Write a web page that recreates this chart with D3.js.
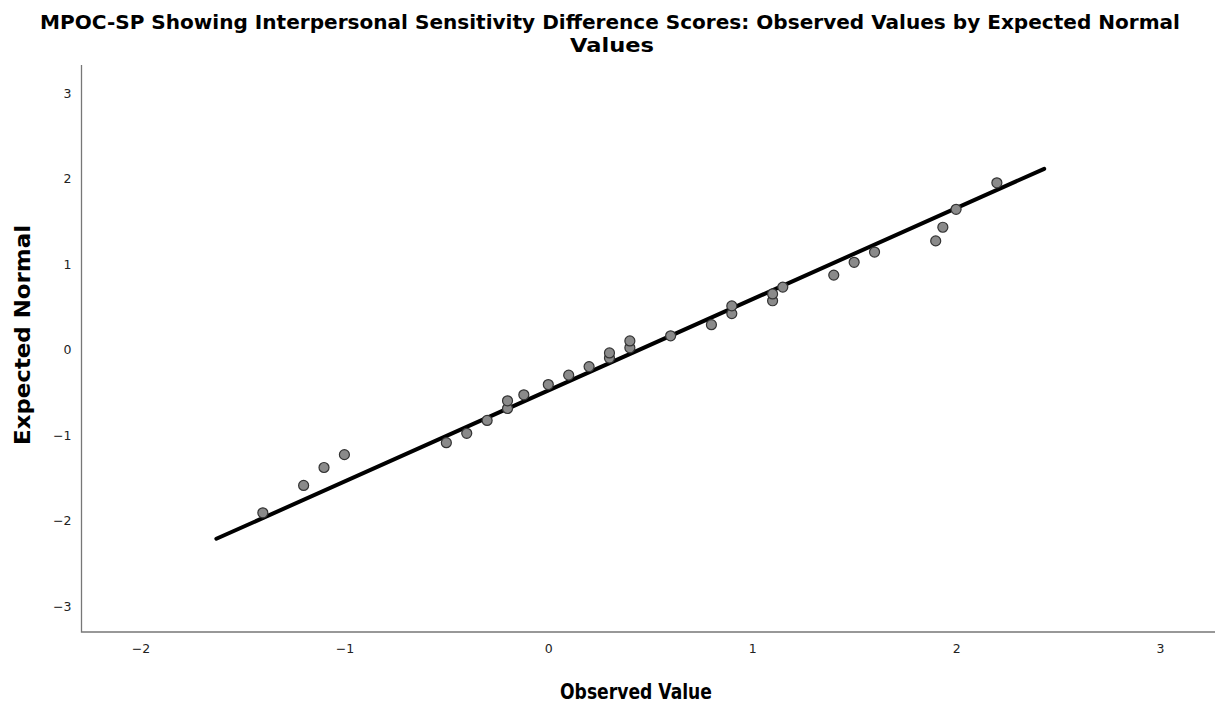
<!DOCTYPE html>
<html><head><meta charset="utf-8">
<script src="https://cdn.jsdelivr.net/npm/d3@7"></script>
<style>body{margin:0;background:#fff;} svg{display:block;}</style>
</head><body>
<svg id="c" width="1225" height="704"></svg>
<script>
const observed = [-1.40,-1.20,-1.10,-1.00,-0.50,-0.40,-0.30,-0.20,-0.20,-0.12,0.00,0.10,0.20,0.30,0.30,0.40,0.40,0.60,0.80,0.90,0.90,1.10,1.10,1.15,1.40,1.50,1.60,1.90,1.935,2.00,2.20];
const expected = [-1.91,-1.59,-1.38,-1.23,-1.09,-0.98,-0.83,-0.69,-0.60,-0.53,-0.41,-0.30,-0.20,-0.10,-0.04,0.02,0.10,0.16,0.29,0.42,0.51,0.57,0.65,0.73,0.87,1.02,1.14,1.27,1.43,1.64,1.95];
const refLineX = [-1.628, 2.432];
const refLineY = [-2.214, 2.113];
const xTicks = [-2,-1,0,1,2,3];
const yTicks = [-3,-2,-1,0,1,2,3];

(function(){
const svg = d3.select("#c");
const mLeft=81.5, mRight=1215, mTop=65, mBottom=632;
const x = d3.scaleLinear().domain([-2,3]).range([140.5,1160]);
const y = d3.scaleLinear().domain([-3,3]).range([606,93]);

const fmt = d=>d<0?"\u2212"+Math.abs(d):d;
const xa = svg.append("g").attr("transform",`translate(0,${mBottom})`)
  .call(d3.axisBottom(x).tickValues(xTicks).tickSize(0).tickPadding(12).tickFormat(fmt));
xa.select(".domain").remove();
xa.selectAll("text").attr("font-family","DejaVu Sans, sans-serif").attr("font-size",12.5).attr("fill","#222");
const ya = svg.append("g").attr("transform",`translate(${mLeft},0)`)
  .call(d3.axisLeft(y).tickValues(yTicks).tickSize(0).tickPadding(10).tickFormat(fmt));
ya.select(".domain").remove();
ya.selectAll("text").attr("font-family","DejaVu Sans, sans-serif").attr("font-size",12.5).attr("fill","#222");

svg.append("path").attr("d",`M${mLeft},${mTop}V${mBottom}H${mRight}`).attr("fill","none").attr("stroke","#777").attr("stroke-width",1.3);

svg.append("line")
  .attr("x1",x(refLineX[0])).attr("y1",y(refLineY[0]))
  .attr("x2",x(refLineX[1])).attr("y2",y(refLineY[1]))
  .attr("stroke","#000").attr("stroke-width",4).attr("stroke-linecap","round");

svg.append("g").selectAll("circle").data(observed.map((v,i)=>[v,expected[i]])).join("circle")
  .attr("cx",d=>x(d[0])).attr("cy",d=>y(d[1])).attr("r",5)
  .attr("fill","#8a8a8a").attr("stroke","#333").attr("stroke-width",1.2);

svg.append("text").attr("x",610).attr("y",29).attr("text-anchor","middle")
  .attr("font-family","DejaVu Sans, sans-serif").attr("font-weight","bold").attr("font-size",20)
  .attr("textLength",1140).attr("lengthAdjust","spacingAndGlyphs")
  .text("MPOC-SP Showing Interpersonal Sensitivity Difference Scores: Observed Values by Expected Normal");
svg.append("text").attr("x",612).attr("y",52).attr("text-anchor","middle")
  .attr("font-family","DejaVu Sans, sans-serif").attr("font-weight","bold").attr("font-size",20)
  .attr("textLength",84).attr("lengthAdjust","spacingAndGlyphs")
  .text("Values");

svg.append("text").attr("x",636).attr("y",699).attr("text-anchor","middle")
  .attr("font-family","DejaVu Sans, sans-serif").attr("font-weight","bold").attr("font-size",21)
  .attr("textLength",152).attr("lengthAdjust","spacingAndGlyphs")
  .text("Observed Value");
svg.append("text").attr("transform","translate(30,335) rotate(-90)").attr("text-anchor","middle")
  .attr("font-family","DejaVu Sans, sans-serif").attr("font-weight","bold").attr("font-size",21)
  .attr("textLength",220).attr("lengthAdjust","spacingAndGlyphs")
  .text("Expected Normal");
})();
</script>
</body></html>
